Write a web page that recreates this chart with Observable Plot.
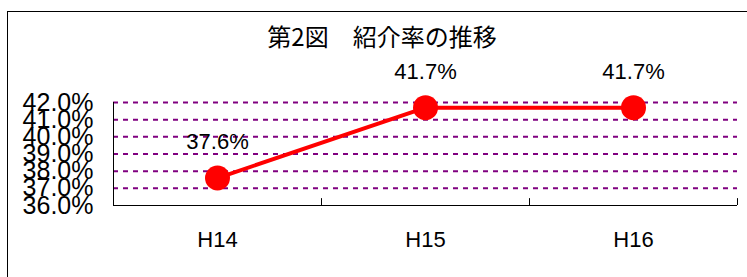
<!DOCTYPE html>
<html>
<head>
<meta charset="utf-8">
<script src="https://cdn.jsdelivr.net/npm/d3@7"></script>
<script src="https://cdn.jsdelivr.net/npm/@observablehq/plot@0.6"></script>
<style>
  html, body { margin: 0; padding: 0; background: #fff; }
  #wrap { position: relative; width: 747px; height: 277px; overflow: hidden; font-family: "Liberation Sans", Arial, sans-serif; }
  #frame { position: absolute; left: 7px; top: 11px; width: 760px; height: 290px; border: 1px solid #000; box-sizing: border-box; }
  #title { position: absolute; left: 0; width: 764px; top: 22px; text-align: center; font-family: "Noto Sans CJK JP", sans-serif; font-size: 24px; line-height: 28px; color: #000; }
  #chart { position: absolute; left: 0; top: 0; }
  .yax text { font-family: "Liberation Sans Narrow", "Arial Narrow", "Liberation Sans", sans-serif; }
</style>
</head>
<body>
<div id="wrap">
  <div id="frame"></div>
  <div id="chart"></div>
  <div id="title">第2図　紹介率の推移</div>
</div>
<script>
const categories = ["H14", "H15", "H16"];
const rates = [37.6, 41.7, 41.7];
const yTicks = [36, 37, 38, 39, 40, 41, 42];

const data = categories.map((c, i) => ({ c, i: i + 0.5, v: rates[i] }));
const pct = d => d.toFixed(1) + "%";

const chart = Plot.plot({
  width: 747,
  height: 277,
  marginLeft: 113,
  marginRight: 10,
  marginTop: 102,
  marginBottom: 72,
  x: { domain: [0, categories.length], axis: null, label: null },
  y: { domain: [36, 42], axis: null, label: null },
  style: { fontFamily: "'Liberation Sans', Arial, sans-serif", background: "transparent", color: "#000" },
  marks: [
    Plot.ruleY(yTicks.slice(1), { stroke: "#800080", strokeWidth: 2, strokeDasharray: "5,5" }),
    Plot.ruleY([yTicks[0]], { stroke: "#000", strokeWidth: 1 }),
    Plot.ruleX([0], { y1: 36, y2: 42, stroke: "#000", strokeWidth: 1 }),
    Plot.ruleX([1, 2, 3], { y1: 36, y2: 36.4, stroke: "#000", strokeWidth: 1 }),
    Plot.axisY(yTicks, { tickFormat: pct, tickSize: 0, tickPadding: 20, fontSize: 25, label: null, className: "yax" }),
    Plot.axisX(data.map(d => d.i), { tickFormat: (t, k) => categories[k], tickSize: 0, tickPadding: 26, fontSize: 22, label: null }),
    Plot.line(data, { x: "i", y: "v", stroke: "#ff0000", strokeWidth: 4 }),
    Plot.dot(data, { x: "i", y: "v", r: 12.5, fill: "#ff0000", stroke: "none" }),
    Plot.text(data, { x: "i", y: "v", text: d => pct(d.v), dy: -36, fontSize: 22, fill: "#000" })
  ]
});
document.getElementById("chart").appendChild(chart);
</script>
</body>
</html>
